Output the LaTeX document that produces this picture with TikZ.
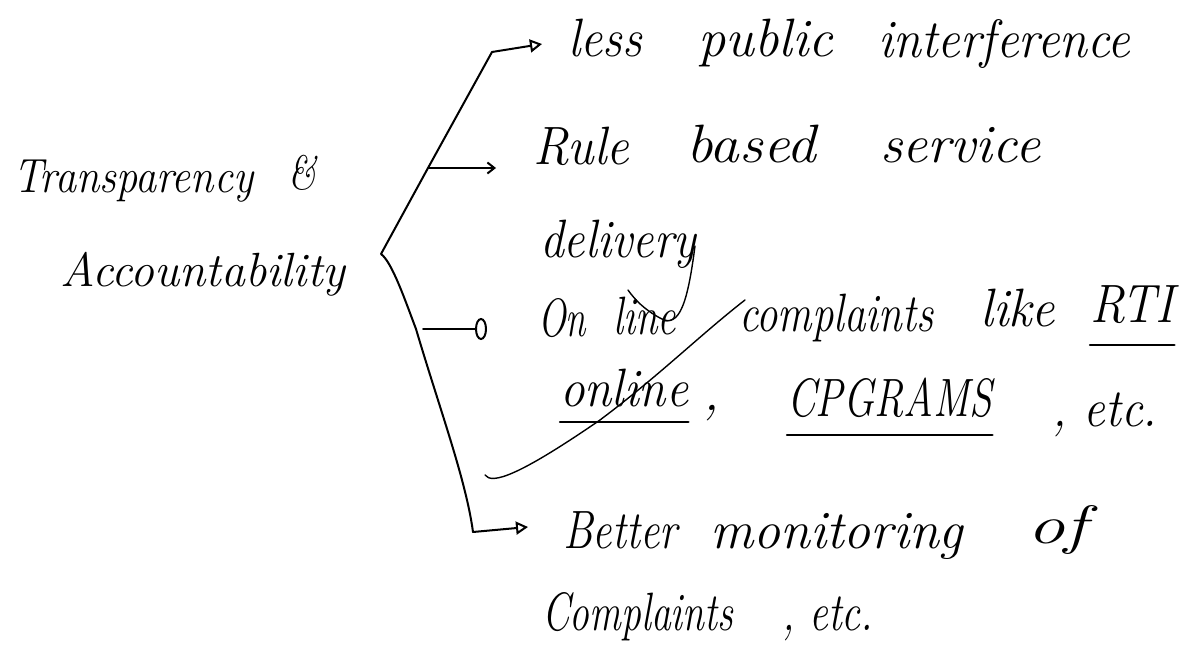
\documentclass[tikz,border=0pt]{standalone}
\usetikzlibrary{arrows.meta}
\newsavebox\fitbox
\newcommand\fitw[2]{\sbox\fitbox{#2}\pgfmathsetmacro\fitfac{#1/\wd\fitbox}\scalebox{\fitfac}[1]{\usebox\fitbox}}
\begin{document}
\begin{tikzpicture}[x=1pt,y=-1pt,
  word/.style={anchor=base west, inner sep=0pt, font=\itshape\fontsize{54}{58}\selectfont},
  title/.style={anchor=base west, inner sep=0pt, font=\itshape\fontsize{48}{52}\selectfont},
  ln/.style={line width=2pt, line cap=round, line join=round},
  thin/.style={line width=1.4pt, line cap=round},
  ul/.style={line width=2.4pt, line cap=round},
  arrtri/.style={ln, -{Triangle[open, length=12pt, width=13pt, line width=2pt]}},
  arrbarb/.style={ln, -{Straight Barb[length=7pt, width=11pt, line width=2pt]}},
  arrell/.style={ln, -{Ellipse[open, length=12pt, width=22pt, line width=2pt]}}]
\fill[white] (0,0) rectangle (1187,668);
\useasboundingbox (0,0) rectangle (1187,668);

% title
\node[title] (t1) at (13,193) {\fitw{240}{Transparency}};
\node[title] (t2) at (288,190) {\fitw{28}{\&}};
\node[title] (t3) at (60,287) {\fitw{285}{Accountability}};

% bracket
\coordinate (btop) at (492,52);
\coordinate (b2) at (428,168);
\coordinate (btip) at (381,254);
\coordinate (b3) at (416,329);
\coordinate (bcorner) at (473,532);
\draw[ln] (btop) -- (b2) -- (btip) .. controls (392,262) and (405,300) .. (b3)
  .. controls (440,410) and (466,480) .. (bcorner);

\coordinate (a1) at (542,44);
\coordinate (a2) at (496,168);
\coordinate (a3s) at (423,329);
\coordinate (a3) at (487,329);
\coordinate (a4) at (528,527);
\draw[arrtri] (btop) -- (a1);
\draw[arrbarb] (b2) -- (a2);
\draw[arrell] (a3s) -- (a3);
\draw[arrtri] (bcorner) -- (a4);

% branch 1
\node[word] (w1a) at (568,57) {\fitw{74}{less}};
\node[word] (w1b) at (698,57) {\fitw{135}{public}};
\node[word] (w1c) at (878,58) {\fitw{252}{interference}};

% branch 2
\node[word] (w2a) at (533,165) {\fitw{96}{Rule}};
\node[word] (w2b) at (686,163) {\fitw{130}{based}};
\node[word] (w2c) at (880,163) {\fitw{160}{service}};
\node[word] (w2d) at (540,258) {\fitw{156}{delivery}};

% branch 3
\node[word] (w3a) at (538,337) {\fitw{48}{On}};
\node[word] (w3b) at (613,335) {\fitw{63}{line}};
\node[word] (w3c) at (739,332) {\fitw{194}{complaints}};
\node[word] (w3d) at (980,327) {\fitw{75}{like}};
\node[word] (w3e) at (1090,323) {\fitw{84}{RTI}};
\node[word] (w3f) at (560,407) {\fitw{128}{online}};
\node[word] (w3fc) at (703,411) {,};
\node[word] (w3g) at (787,417) {\fitw{205}{CPGRAMS}};
\node[word] (w3h) at (1052,427) {\fitw{105}{, etc.}};
\draw[ul] ([yshift=-22pt]w3e.base west) -- ([yshift=-22pt]w3e.base east);
\draw[ul] ([yshift=-15pt]w3f.base west) -- ([yshift=-15pt]w3f.base east);
\draw[ul] ([yshift=-18pt]w3g.base west) -- ([yshift=-18pt]w3g.base east);

% branch 4
\node[word] (w4a) at (563,548) {\fitw{114}{Better}};
\node[word] (w4b) at (710,548) {\fitw{253}{monitoring}};
\node[word] (w4c) at (1027,543) {\fitw{60}{of}};
\node[word] (w4d) at (542,630) {\fitw{191}{Complaints}};
\node[word] (w4e) at (782,630) {\fitw{91}{, etc.}};

% stray strokes of the hand-drawn original
\coordinate (s1) at (485,475);
\coordinate (s2) at (745,300);
\draw[thin] (s1) .. controls (492,485) and (520,475) .. (600,420)
  .. controls (660,375) and (700,335) .. (s2);
\coordinate (y1) at (695,246);
\coordinate (y2) at (628,290);
\draw[thin] (y1) .. controls (688,300) and (680,330) .. (660,318)
  .. controls (645,310) and (635,300) .. (y2);
\end{tikzpicture}
\end{document}
